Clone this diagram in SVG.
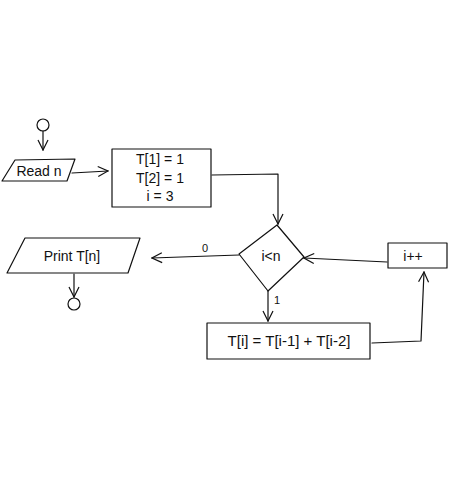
<svg xmlns="http://www.w3.org/2000/svg" width="452" height="480" viewBox="0 0 452 480">
  <style>
    .s { fill: none; stroke: #111; stroke-width: 1.2; stroke-linecap: round; stroke-linejoin: round; }
    .t { font-family: "Liberation Sans", "DejaVu Sans", sans-serif; font-size: 14px; fill: #111; text-anchor: middle; }
    .sm { font-size: 11px; }
  </style>
  <defs>
    <marker id="open" viewBox="0 0 12 12" refX="11" refY="6" markerWidth="12" markerHeight="12" markerUnits="userSpaceOnUse" orient="auto">
      <path d="M1,1 L11,6 L1,11" fill="none" stroke="#111" stroke-width="1.2"/>
    </marker>
  </defs>

  <rect width="452" height="480" fill="#fff"/>

  <g id="connectors">
    <!-- start -> read -->
    <path class="s" d="M43,131 L43,150" marker-end="url(#open)"/>
    <!-- read -> init -->
    <path class="s" d="M72,173 L108,171" marker-end="url(#open)"/>
    <!-- init -> condition -->
    <path class="s" d="M212,175 L278,174 L278,224" marker-end="url(#open)"/>
    <!-- condition true -> body -->
    <path class="s" d="M268,291 L268,321" marker-end="url(#open)"/>
    <text class="t sm" x="277" y="304">1</text>
    <!-- body -> increment -->
    <path class="s" d="M372,343 L421,341 L424,272" marker-end="url(#open)"/>
    <!-- increment -> condition -->
    <path class="s" d="M387,262 L304,258" marker-end="url(#open)"/>
    <!-- condition false -> print -->
    <path class="s" d="M239,255 L152,258" marker-end="url(#open)"/>
    <text class="t sm" x="205" y="252">0</text>
    <!-- print -> end -->
    <path class="s" d="M74,274 L74,297" marker-end="url(#open)"/>
  </g>

  <g id="start">
    <circle class="s" cx="43" cy="125" r="6"/>
  </g>

  <g id="read">
    <path class="s" d="M15,160 L75,159 L67,181 L2,181 Z"/>
    <text class="t" x="39" y="176">Read n</text>
  </g>

  <g id="init">
    <rect class="s" x="112" y="149" width="99" height="58"/>
    <text class="t" x="160" y="164">T[1] = 1</text>
    <text class="t" x="160" y="183">T[2] = 1</text>
    <text class="t" x="160" y="201">i = 3</text>
  </g>

  <g id="condition">
    <path class="s" d="M277,225 L304,257 L268,291 L239,254 Z"/>
    <text class="t" x="271" y="261">i&lt;n</text>
  </g>

  <g id="increment">
    <rect class="s" x="388" y="243" width="59" height="25"/>
    <text class="t" x="413" y="261">i++</text>
  </g>

  <g id="body">
    <rect class="s" x="207" y="323" width="163" height="36"/>
    <text class="t" x="289" y="346" style="font-size:15px">T[i] = T[i-1] + T[i-2]</text>
  </g>

  <g id="print">
    <path class="s" d="M25,238 L140,238 L128,273 L7,273 Z"/>
    <text class="t" x="72" y="261">Print T[n]</text>
  </g>

  <g id="end">
    <circle class="s" cx="74" cy="304" r="6"/>
  </g>
</svg>
